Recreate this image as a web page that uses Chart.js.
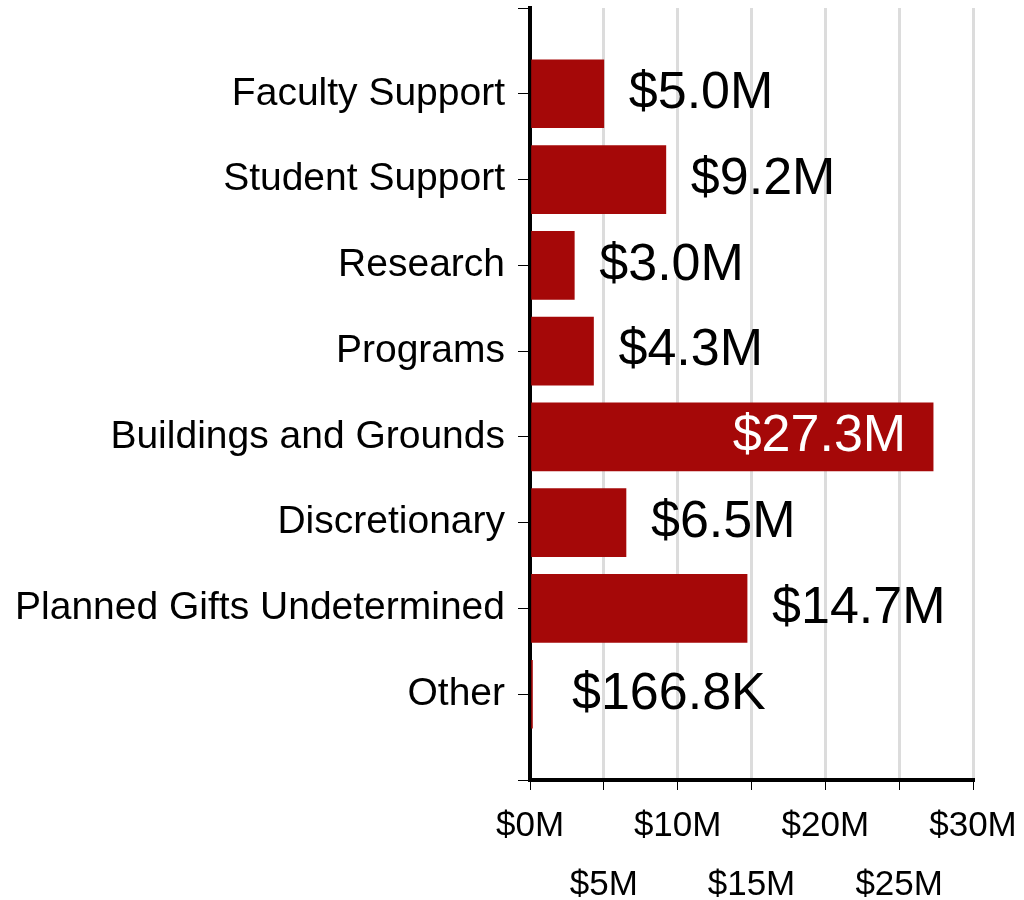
<!DOCTYPE html>
<html>
<head>
<meta charset="utf-8">
<script src="https://cdn.jsdelivr.net/npm/chart.js@4/dist/chart.umd.min.js"></script>
<style>
  html, body { margin: 0; padding: 0; background: #fff; }
  #wrap { width: 1024px; height: 900px; position: relative; }
</style>
</head>
<body>
<div id="wrap"><canvas id="giftChart"></canvas></div>
<script>
// values in $ millions
var categories = ['Faculty Support', 'Student Support', 'Research', 'Programs',
  'Buildings and Grounds', 'Discretionary', 'Planned Gifts Undetermined', 'Other'];
var amounts = [5.0, 9.2, 3.0, 4.3, 27.3, 6.5, 14.7, 0.1668];
var xTicks = [0, 5, 10, 15, 20, 25, 30];

document.addEventListener('DOMContentLoaded', function () {
  var ctx = document.getElementById('giftChart').getContext('2d');

  // empty slot above and below the categories, like the original axis
  var labels = [''].concat(categories, ['']);
  var values = [null].concat(amounts, [null]);

  function money(v) {
    if (v >= 1) return '$' + v.toFixed(1) + 'M';
    return '$' + (v * 1000).toFixed(1) + 'K';
  }

  var valueLabels = {
    id: 'valueLabels',
    afterDatasetsDraw: function (chart) {
      var c = chart.ctx;
      var meta = chart.getDatasetMeta(0);
      var left = chart.scales.x.left;
      c.save();
      c.font = '52px "Liberation Sans", Arial, sans-serif';
      c.textBaseline = 'middle';
      meta.data.forEach(function (bar, i) {
        var v = values[i];
        if (v === null) return;
        if (v > 20) {
          c.fillStyle = '#fff';
          c.textAlign = 'right';
          c.fillText(money(v), bar.x - 27, bar.y);
        } else {
          c.fillStyle = '#000';
          c.textAlign = 'left';
          c.fillText(money(v), Math.max(bar.x + 25, left + 42), bar.y);
        }
      });
      c.restore();
    }
  };

  new Chart(ctx, {
    type: 'bar',
    data: {
      labels: labels,
      datasets: [{
        data: values,
        backgroundColor: '#a50808',
        barThickness: 68
      }]
    },
    options: {
      indexAxis: 'y',
      responsive: true,
      maintainAspectRatio: false,
      animation: false,
      layout: { padding: { top: 8, left: 12, right: 51, bottom: 0 } },
      plugins: { legend: { display: false }, tooltip: { enabled: false } },
      scales: {
        x: {
          min: 0,
          max: 30,
          afterBuildTicks: function (scale) {
            scale.ticks = xTicks.map(function (t) { return { value: t }; });
          },
          afterFit: function (scale) { scale.height = 120; },
          border: { color: '#000', width: 4 },
          grid: { color: '#dcdcdc', lineWidth: 3, tickColor: '#000', tickWidth: 1, tickLength: 10 },
          ticks: {
            autoSkip: false,
            maxRotation: 0,
            padding: 6,
            color: '#000',
            font: { family: '"Liberation Sans", Arial, sans-serif', size: 35, lineHeight: 1.71 },
            callback: function (v, i) {
              var s = '$' + v + 'M';
              return i % 2 ? ['', s] : s;
            }
          }
        },
        y: {
          offset: false,
          z: 1,
          afterFit: function (scale) {
            scale.width = 518;
            scale.paddingTop = 0;
            scale.paddingBottom = 0;
          },
          border: { color: '#000', width: 4 },
          grid: { offset: false, drawOnChartArea: false, tickColor: '#000', tickWidth: 1, tickLength: 12 },
          ticks: {
            autoSkip: false,
            padding: 13,
            color: '#000',
            font: { family: '"Liberation Sans", Arial, sans-serif', size: 39 }
          }
        }
      }
    },
    plugins: [valueLabels]
  });
});
</script>
</body>
</html>
